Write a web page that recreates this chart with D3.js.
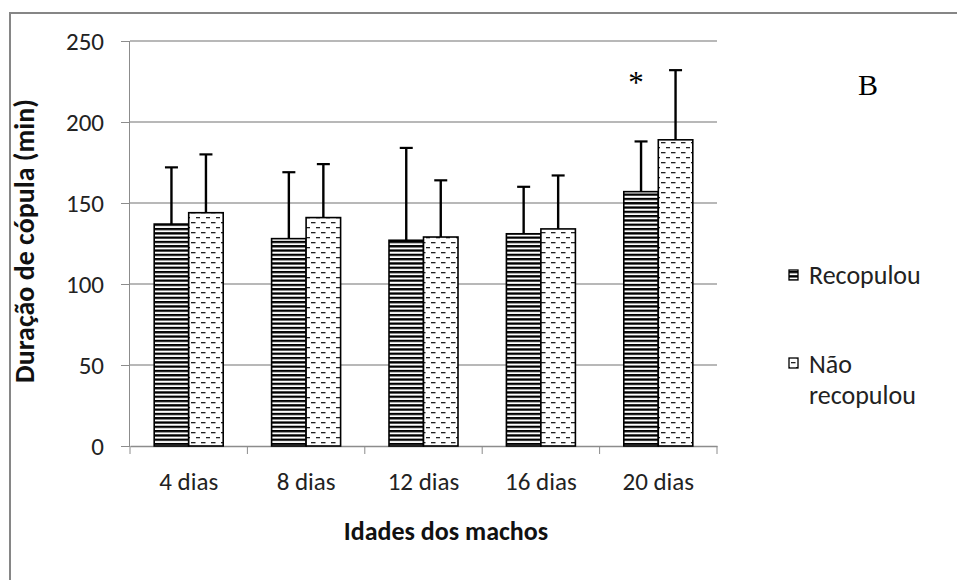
<!DOCTYPE html>
<html>
<head>
<meta charset="utf-8">
<script src="https://cdn.jsdelivr.net/npm/d3@7"></script>
<style>
  body { margin: 0; background: #fff; }
  text { font-family: Carlito, Lato, "Open Sans", sans-serif; }
</style>
</head>
<body>
<div id="chart"></div>
<script>
// data
const ages = ['4 dias', '8 dias', '12 dias', '16 dias', '20 dias'];
const seriesNames = ['Recopulou', 'Não recopulou'];
const recopulou = [137, 128, 127, 131, 157];
const recopulouErr = [35, 41, 57, 29, 31];
const naoRecopulou = [144, 141, 129, 134, 189];
const naoRecopulouErr = [36, 33, 35, 33, 43];
const yTicks = [0, 50, 100, 150, 200, 250];

const W = 957, H = 580;
const margin = { top: 41, left: 130, right: 240, bottom: 134 };
const font = 'Carlito, Lato, "Open Sans", sans-serif';
const serif = '"Liberation Serif", "DejaVu Serif", serif';

const svg = d3.select('#chart').append('svg')
  .attr('width', W).attr('height', H);

// hatch patterns
const defs = svg.append('defs');
const pStripe = defs.append('pattern')
  .attr('id', 'stripes').attr('patternUnits', 'userSpaceOnUse')
  .attr('width', 8).attr('height', 4.3);
pStripe.append('rect').attr('width', 8).attr('height', 4.3).attr('fill', '#fff');
pStripe.append('rect').attr('y', 0).attr('width', 8).attr('height', 2.3).attr('fill', '#000');

const pDash = defs.append('pattern')
  .attr('id', 'dashes').attr('patternUnits', 'userSpaceOnUse')
  .attr('width', 10).attr('height', 10);
pDash.append('rect').attr('width', 10).attr('height', 10).attr('fill', '#fff');
pDash.append('rect').attr('x', 1).attr('y', 2).attr('width', 4.5).attr('height', 1.3).attr('fill', '#222');
pDash.append('rect').attr('x', 6).attr('y', 7).attr('width', 4.5).attr('height', 1.3).attr('fill', '#222');

// outer frame
svg.append('path')
  .attr('d', `M10,${H} V13 H${W}`)
  .attr('fill', 'none').attr('stroke', '#868686').attr('stroke-width', 2);

const x = d3.scaleBand().domain(ages).range([margin.left, 717]).paddingInner(0).paddingOuter(0);
const y = d3.scaleLinear().domain([0, 250]).range([446, margin.top]);

// gridlines
svg.append('g').selectAll('line').data(yTicks.filter(d => d > 0)).join('line')
  .attr('x1', margin.left).attr('x2', 717)
  .attr('y1', d => y(d)).attr('y2', d => y(d))
  .attr('stroke', '#a0a0a0').attr('stroke-width', 1.3);

// y axis
const yAxis = svg.append('g').attr('transform', `translate(${margin.left},0)`)
  .call(d3.axisLeft(y).tickValues(yTicks).tickSize(9).tickPadding(17));
yAxis.select('.domain').attr('stroke', '#8c8c8c').attr('d', `M-0.5,${y(0)}V${y(250)}`);
yAxis.selectAll('.tick line').attr('stroke', '#8c8c8c');
yAxis.selectAll('text').attr('font-size', 25).attr('fill', '#222').style('font-family', font);

// x axis
const xAxis = svg.append('g').attr('transform', `translate(0,${y(0)})`)
  .call(d3.axisBottom(x).tickSize(0).tickPadding(36));
xAxis.select('.domain').attr('stroke', '#8c8c8c').attr('stroke-width', 1.3);
xAxis.selectAll('text').attr('font-size', 25).attr('fill', '#222').style('font-family', font)
  .attr('dy', '0.32em');
// category separators
xAxis.append('g').selectAll('line').data(d3.range(ages.length + 1)).join('line')
  .attr('x1', i => margin.left + i * x.bandwidth()).attr('x2', i => margin.left + i * x.bandwidth())
  .attr('y1', 0).attr('y2', 8).attr('stroke', '#8c8c8c');

const inner = d3.scaleBand().domain(seriesNames).range([0, 69]);
const off = (x.bandwidth() - 69) / 2;

const series = [
  { name: seriesNames[0], vals: recopulou, errs: recopulouErr, fill: 'url(#stripes)' },
  { name: seriesNames[1], vals: naoRecopulou, errs: naoRecopulouErr, fill: 'url(#dashes)' }
];

series.forEach(s => {
  const g = svg.append('g');
  const rows = ages.map((a, i) => ({ a, v: s.vals[i], e: s.errs[i] }));
  const cx = d => x(d.a) + off + inner(s.name) + inner.bandwidth() / 2;
  // error bars (drawn behind bars)
  g.selectAll('line.err').data(rows).join('line')
    .attr('x1', cx).attr('x2', cx)
    .attr('y1', d => y(d.v)).attr('y2', d => y(d.v + d.e))
    .attr('stroke', '#000').attr('stroke-width', 2.4);
  g.selectAll('line.cap').data(rows).join('line')
    .attr('x1', d => cx(d) - 6.5).attr('x2', d => cx(d) + 6.5)
    .attr('y1', d => y(d.v + d.e)).attr('y2', d => y(d.v + d.e))
    .attr('stroke', '#000').attr('stroke-width', 2.2);
  g.selectAll('rect').data(rows).join('rect')
    .attr('x', d => x(d.a) + off + inner(s.name))
    .attr('width', inner.bandwidth())
    .attr('y', d => y(d.v))
    .attr('height', d => y(0) - y(d.v))
    .attr('fill', s.fill)
    .attr('stroke', '#000').attr('stroke-width', 1.6);
});

// significance mark and panel letter
svg.append('text').attr('x', 636).attr('y', 93).attr('text-anchor', 'middle')
  .style('font-family', serif).attr('font-size', 31).text('*');
svg.append('text').attr('x', 868).attr('y', 95).attr('text-anchor', 'middle')
  .style('font-family', serif).attr('font-size', 30).text('B');

// axis titles
svg.append('text').attr('x', 446).attr('y', 540).attr('text-anchor', 'middle')
  .attr('font-size', 26).attr('font-weight', 'bold').attr('fill', '#111')
  .text('Idades dos machos');
svg.append('text').attr('transform', 'translate(34,241) rotate(-90)')
  .attr('text-anchor', 'middle')
  .attr('font-size', 28).attr('font-weight', 'bold').attr('fill', '#111')
  .text('Duração de cópula (min)');

// legend
const leg = svg.append('g');
leg.append('rect').attr('x', 789).attr('y', 270).attr('width', 9).attr('height', 10)
  .attr('fill', 'url(#stripes)').attr('stroke', '#000').attr('stroke-width', 1.3);
leg.append('text').attr('x', 809).attr('y', 284).attr('font-size', 26).attr('fill', '#222').text('Recopulou');
leg.append('rect').attr('x', 789).attr('y', 358).attr('width', 9).attr('height', 10)
  .attr('fill', 'url(#dashes)').attr('stroke', '#000').attr('stroke-width', 1.3);
leg.append('text').attr('x', 809).attr('y', 373).attr('font-size', 26).attr('fill', '#222').text('Não');
leg.append('text').attr('x', 809).attr('y', 404).attr('font-size', 26).attr('fill', '#222').text('recopulou');
</script>
</body>
</html>
